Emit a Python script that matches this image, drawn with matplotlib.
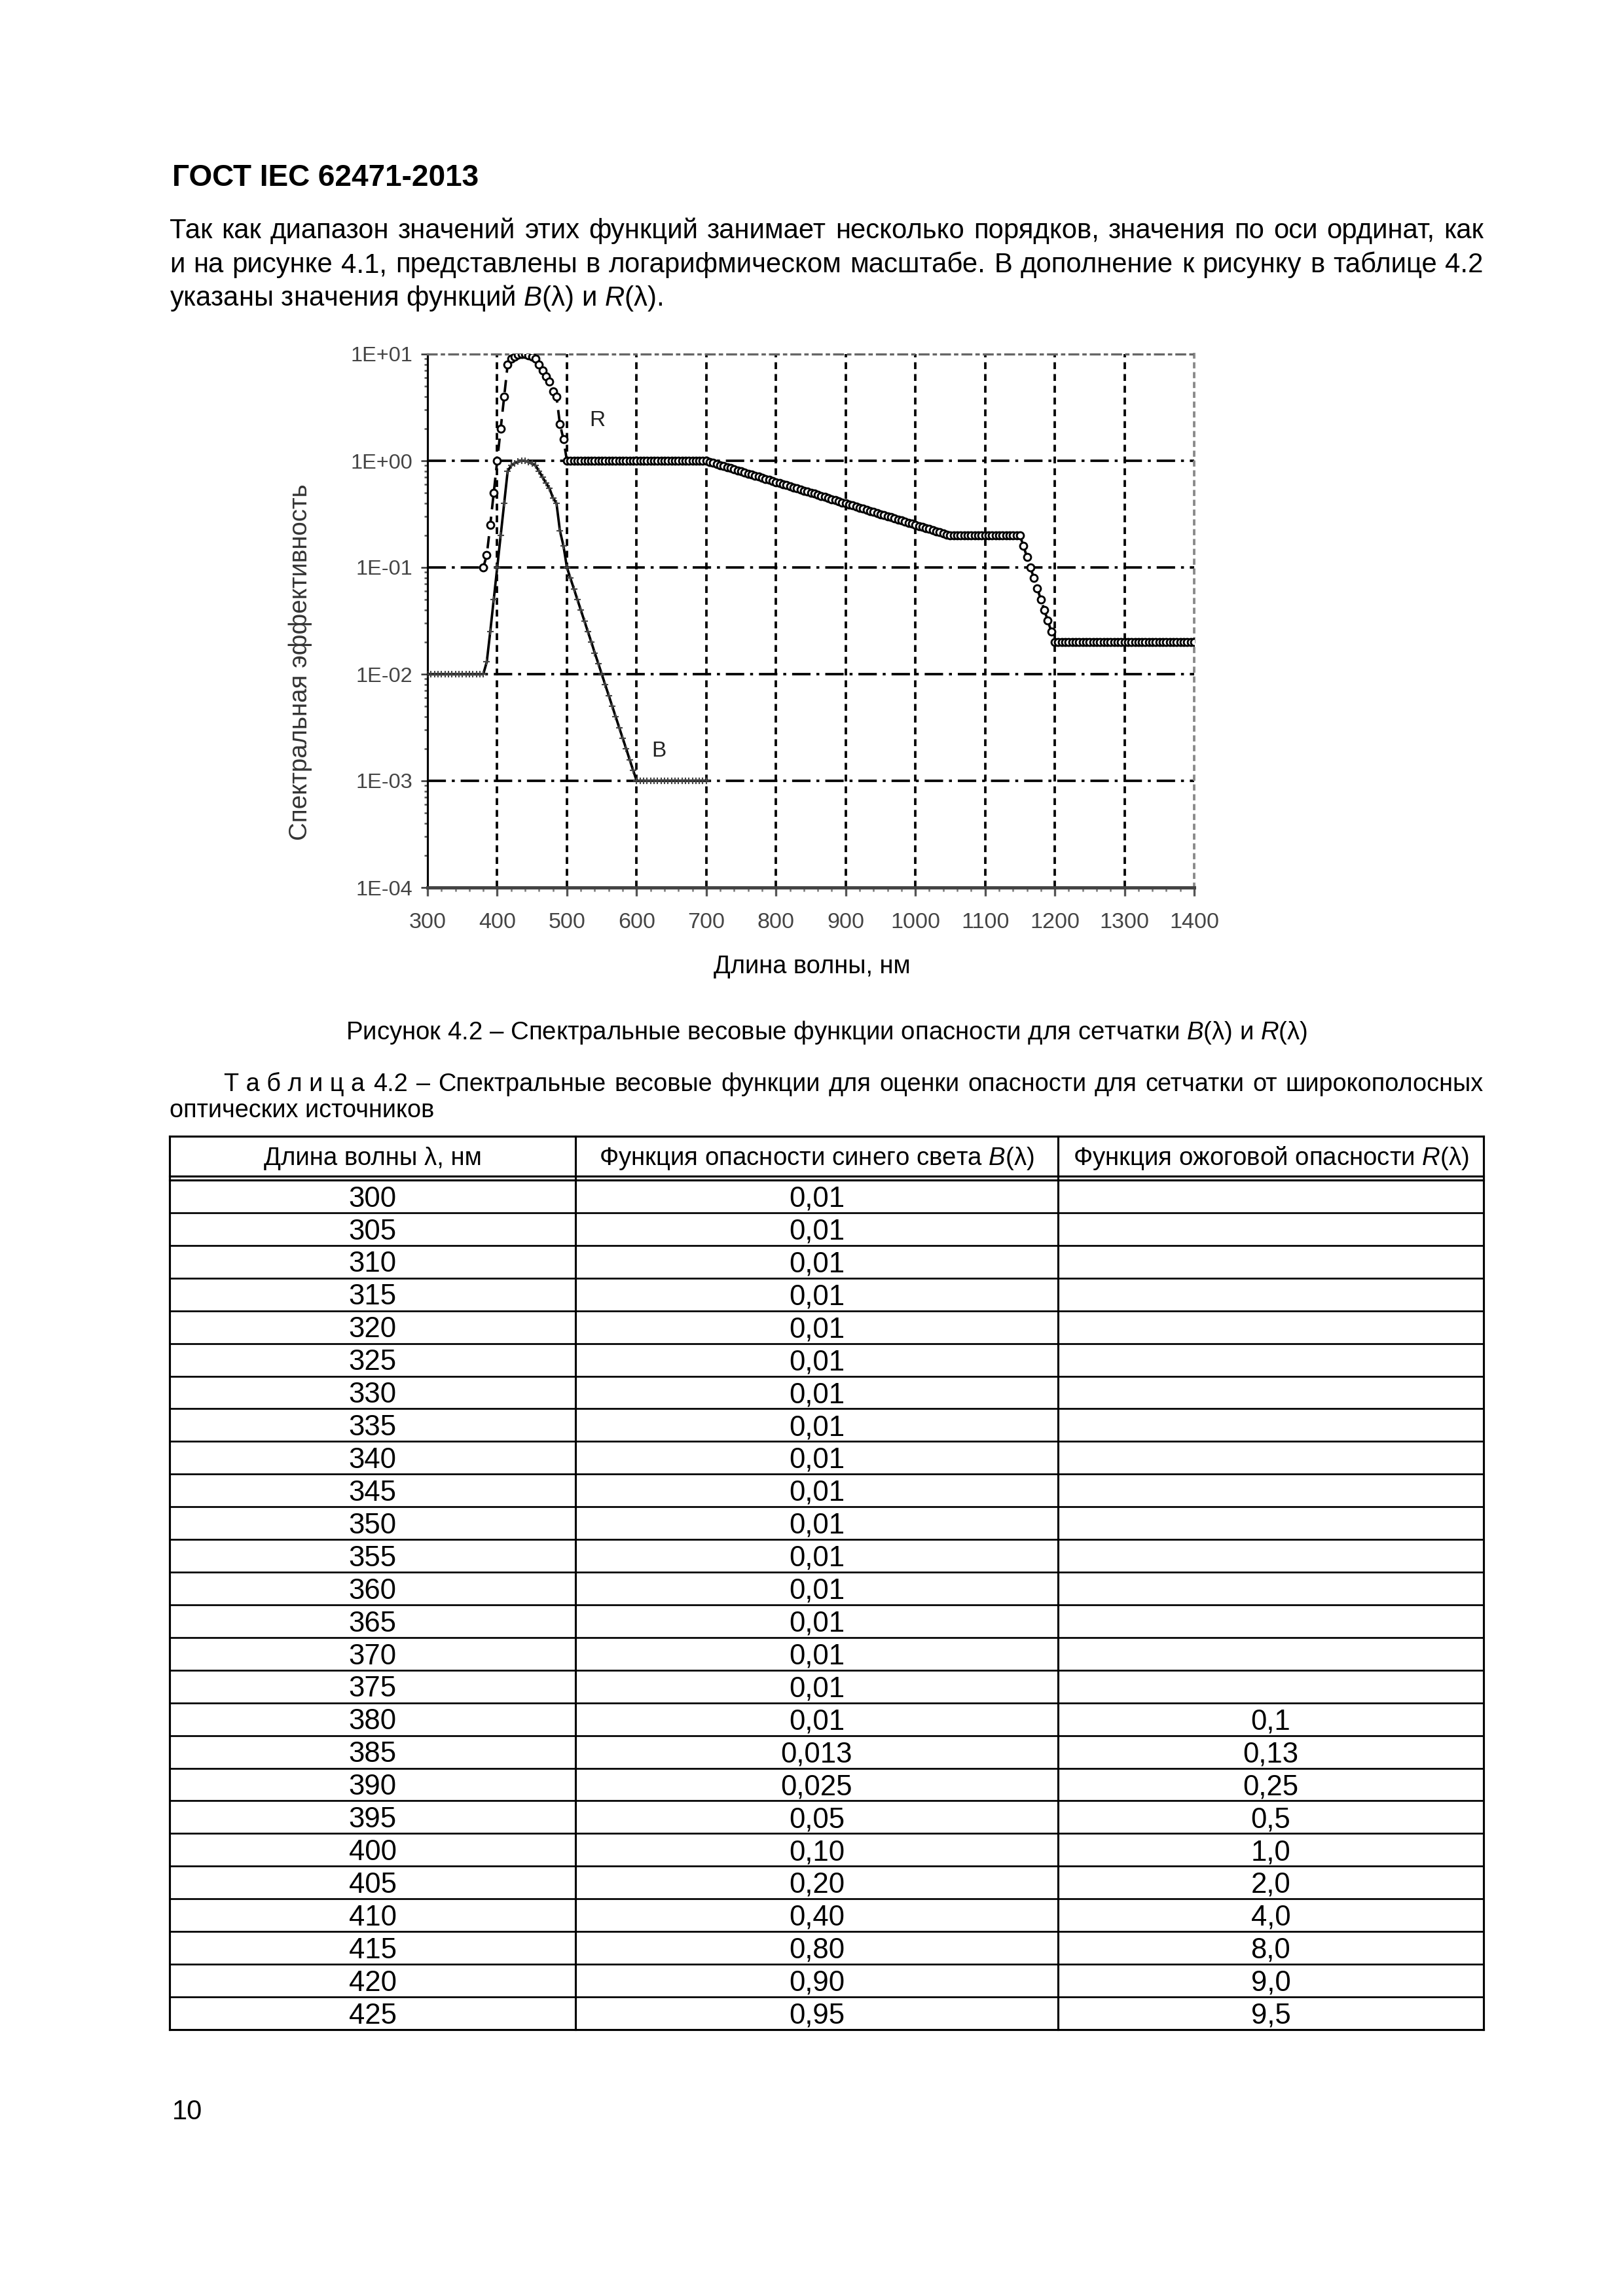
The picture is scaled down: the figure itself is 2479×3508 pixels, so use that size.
import matplotlib
matplotlib.use("Agg")
import matplotlib.pyplot as plt
from matplotlib.ticker import MultipleLocator, LogLocator, NullFormatter

plt.rcParams['font.family'] = ['Liberation Sans', 'DejaVu Sans']
plt.rcParams['mathtext.fontset'] = 'custom'
plt.rcParams['mathtext.rm'] = 'Liberation Sans'
plt.rcParams['mathtext.it'] = 'Liberation Sans:italic'
plt.rcParams['mathtext.bf'] = 'Liberation Sans:bold'

# ---------------- data ----------------
B_wl = list(range(300, 705, 5))
B_val = ([0.01] * 17 +
         [0.013, 0.025, 0.05, 0.10, 0.20, 0.40, 0.80, 0.90, 0.95, 0.98, 1.0, 1.0,
          0.97, 0.94, 0.90, 0.80, 0.70, 0.62, 0.55, 0.45, 0.40, 0.22, 0.16] +
         [0.100, 0.0794, 0.0631, 0.0501, 0.0398, 0.0316, 0.0251, 0.0200, 0.0158,
          0.0126, 0.0100, 0.00794, 0.00631, 0.00501, 0.00398, 0.00316, 0.00251,
          0.00200, 0.00158, 0.00126, 0.00100] +
         [0.001] * 20)

R_wl = list(range(380, 1405, 5))
R_val = ([0.1, 0.13, 0.25, 0.5, 1.0, 2.0, 4.0, 8.0, 9.0, 9.5, 9.8, 10.0, 10.0,
          9.7, 9.4, 9.0, 8.0, 7.0, 6.2, 5.5, 4.5, 4.0, 2.2, 1.6] +
         [1.0] * 41 +
         [0.977, 0.955, 0.933, 0.912, 0.891, 0.871, 0.851, 0.832, 0.813, 0.794,
          0.776, 0.759, 0.741, 0.724, 0.708, 0.692, 0.676, 0.661, 0.646, 0.631,
          0.617, 0.603, 0.589, 0.575, 0.562, 0.550, 0.537, 0.525, 0.513, 0.501,
          0.490, 0.479, 0.468, 0.457, 0.447, 0.437, 0.427, 0.417, 0.407, 0.398,
          0.389, 0.380, 0.372, 0.363, 0.355, 0.347, 0.339, 0.331, 0.324, 0.316,
          0.309, 0.302, 0.295, 0.288, 0.282, 0.275, 0.269, 0.263, 0.257, 0.251,
          0.245, 0.240, 0.234, 0.229, 0.224, 0.219, 0.214, 0.209, 0.204, 0.200] +
         [0.2] * 20 +
         [0.159, 0.126, 0.100, 0.0796, 0.0632, 0.0502, 0.0399, 0.0317, 0.0252] +
         [0.02] * 41)

x_ticks = [300, 400, 500, 600, 700, 800, 900, 1000, 1100, 1200, 1300, 1400]
y_ticks = [1e-4, 1e-3, 1e-2, 1e-1, 1e0, 1e1]
y_ticklabels = ['1E-04', '1E-03', '1E-02', '1E-01', '1E+00', '1E+01']

tbl_wl = ['300', '305', '310', '315', '320', '325', '330', '335', '340', '345',
          '350', '355', '360', '365', '370', '375', '380', '385', '390', '395',
          '400', '405', '410', '415', '420', '425']
tbl_B = ['0,01'] * 17 + ['0,013', '0,025', '0,05', '0,10', '0,20', '0,40',
                         '0,80', '0,90', '0,95']
tbl_R = [''] * 16 + ['0,1', '0,13', '0,25', '0,5', '1,0', '2,0', '4,0', '8,0',
                     '9,0', '9,5']
tbl_head = ['Длина волны λ, нм', 'Функция опасности синего света $B$(λ)',
            'Функция ожоговой опасности $R$(λ)']

header = 'ГОСТ IEC 62471-2013'
para = ['Так как диапазон значений этих функций занимает несколько порядков, значения по оси ординат, как',
        'и на рисунке 4.1, представлены в логарифмическом масштабе. В дополнение к рисунку в таблице 4.2',
        'указаны значения функций $B$(λ) и $R$(λ).']
caption = 'Рисунок 4.2 – Спектральные весовые функции опасности для сетчатки $B$(λ) и $R$(λ)'
tbl_title_words = ['Т а б л и ц а', '4.2', '–', 'Спектральные', 'весовые', 'функции', 'для',
                   'оценки', 'опасности', 'для', 'сетчатки', 'от', 'широкополосных']
tbl_title_line2 = 'оптических источников'
page_no = '10'

# ---------------- page ----------------
W, H, DPI = 2479, 3508, 300
fig = plt.figure(figsize=(W / DPI, H / DPI), dpi=DPI, facecolor='white')
page = fig.add_axes([0, 0, 1, 1])
page.set_xlim(0, W)
page.set_ylim(H, 0)
page.axis('off')
renderer = fig.canvas.get_renderer()


def tw(t):
    return t.get_window_extent(renderer=renderer).width


def fit(s, target, **kw):
    t = page.text(0, 0, s, fontsize=10, **kw)
    w = tw(t)
    t.remove()
    return 10 * target / w


def justify(words, x0, x1, y, size, **kw):
    ts = [page.text(x0, y, w, fontsize=size, ha='left', va='baseline', **kw) for w in words]
    ws = [tw(t) for t in ts]
    gap = (x1 - x0 - sum(ws)) / (len(ts) - 1)
    x = x0
    for t, w in zip(ts, ws):
        t.set_x(x)
        x += w + gap


LM, RM = 259, 2266

# header
hs = fit(header, 468, fontweight='bold')
page.text(LM + 4, 284, header, fontsize=hs, fontweight='bold', ha='left', va='baseline')

# paragraph
ps = fit(para[2], 752)
justify(para[0].split(), LM, RM, 364, ps)
justify(para[1].split(), LM, RM, 416, ps)
page.text(LM, 467, para[2], fontsize=ps, ha='left', va='baseline')

# caption
cs = fit(caption, 1470)
page.text((LM + RM) / 2, 1588, caption, fontsize=cs, ha='center', va='baseline')

# table title
ts_ = min(cs, fit(' '.join(tbl_title_words), 1895))
justify(tbl_title_words, 342, RM, 1667, ts_)
page.text(LM, 1707, tbl_title_line2, fontsize=ts_, ha='left', va='baseline')

# table
col_x = [259, 879, 1616, 2266]
top, hb1, hb2 = 1736, 1797, 1803
row_h = 49.92
nrows = len(tbl_wl)
bottom = hb2 + nrows * row_h
lw = 0.75
for x in col_x:
    page.plot([x, x], [top, bottom], color='k', lw=lw, solid_capstyle='projecting')
for y in [top, hb1, hb2, bottom]:
    page.plot([col_x[0], col_x[-1]], [y, y], color='k', lw=lw, solid_capstyle='projecting')
for i in range(1, nrows):
    y = hb2 + i * row_h
    page.plot([col_x[0], col_x[-1]], [y, y], color='k', lw=0.65)

ths = fit(tbl_head[0], 333)
for j, s in enumerate(tbl_head):
    xc = (col_x[j] + col_x[j + 1]) / 2
    page.text(xc, (top + hb1) / 2 + 0.716 * ths * DPI / 72 / 2, s, fontsize=ths,
              ha='center', va='baseline')

cell_fs = 10.5
cap = 0.716 * cell_fs * DPI / 72
for i in range(nrows):
    yc = hb2 + (i + 0.5) * row_h + cap / 2
    for j, s in enumerate([tbl_wl[i], tbl_B[i], tbl_R[i]]):
        if s:
            xc = (col_x[j] + col_x[j + 1]) / 2
            page.text(xc, yc, s, fontsize=cell_fs, ha='center', va='baseline')

page.text(263, 3238, page_no, fontsize=10, ha='left', va='baseline')

# ---------------- chart ----------------
AL, AR, AT, AB = 653, 1824, 541, 1356
ax = fig.add_axes([AL / W, 1 - AB / H, (AR - AL) / W, (AB - AT) / H])
ax.set_facecolor('none')
ax.set_yscale('log')
ax.set_xlim(x_ticks[0], x_ticks[-1])
ax.set_ylim(y_ticks[0], y_ticks[-1])

for x in x_ticks[1:-1]:
    ax.axvline(x, color='k', lw=0.9, ls=(0, (2.8, 2.0)), zorder=1)
for y in y_ticks[1:-1]:
    ax.axhline(y, color='k', lw=0.9, ls=(0, (7.5, 2.4, 1.2, 2.4)), zorder=1)

ax.plot(B_wl, B_val, color='k', lw=0.9, marker='+', ms=2.6, mec='#444444', mew=0.5, zorder=3)
ax.plot(R_wl, R_val, color='k', lw=0.9, ls=(0, (5, 3)), marker='o', ms=2.6,
        mfc='white', mec='k', mew=0.7, zorder=4)

ax.text(544, 2.4, 'R', fontsize=8, ha='center', va='center', color='#222222')
ax.text(632, 0.0019, 'B', fontsize=8, ha='center', va='center', color='#222222')

ax.set_xticks(x_ticks)
ax.set_xticklabels([str(v) for v in x_ticks])
ax.xaxis.set_minor_locator(MultipleLocator(20))
ax.set_yticks(y_ticks)
ax.set_yticklabels(y_ticklabels)
ax.yaxis.set_minor_locator(LogLocator(base=10, subs=[2, 3, 4, 5, 6, 7, 8, 9]))
ax.yaxis.set_minor_formatter(NullFormatter())

ax.tick_params(axis='y', which='major', direction='out', length=2.5, width=0.6,
               color='#333333', labelsize=7.8, labelcolor='#444444', pad=3)
ax.tick_params(axis='y', which='minor', direction='out', length=1.3, width=0.6, color='#555555')
ax.tick_params(axis='x', which='major', direction='out', length=3.2, width=0.8,
               color='#555555', labelsize=8.2, labelcolor='#444444', pad=6)
ax.tick_params(axis='x', which='minor', direction='out', length=1.4, width=0.6, color='#777777')

ax.spines['left'].set_color('k')
ax.spines['left'].set_linewidth(0.75)
ax.spines['bottom'].set_color('#444444')
ax.spines['bottom'].set_linewidth(1.2)
ax.spines['top'].set_color('#666666')
ax.spines['top'].set_linewidth(0.8)
ax.spines['top'].set_linestyle((0, (4, 2.4, 1, 2.4)))
ax.spines['right'].set_color('#888888')
ax.spines['right'].set_linewidth(0.9)
ax.spines['right'].set_linestyle((0, (1.5, 2.5)))

ys = fit('Спектральная эффективность', 545)
page.text(459, 1012, 'Спектральная эффективность', fontsize=ys, rotation=90,
          ha='center', va='center', color='#333333')
xs = fit('Длина волны, нм', 300)
page.text(1240, 1487, 'Длина волны, нм', fontsize=xs, ha='center', va='baseline', color='k')

fig.savefig('out.png', dpi=DPI, facecolor='white')
